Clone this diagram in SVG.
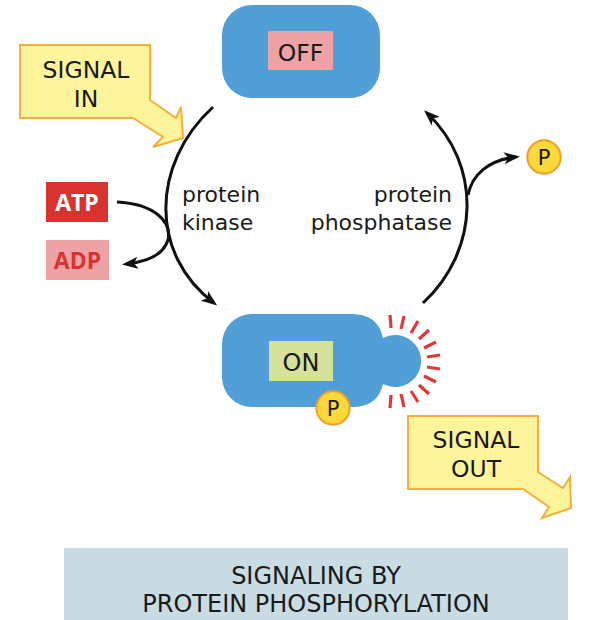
<svg xmlns="http://www.w3.org/2000/svg" width="590" height="620" viewBox="0 0 590 620">
<defs>
<style>
.t{font-family:"DejaVu Sans","Open Sans",sans-serif;fill:#1a1a1a}
.b{font-family:"Open Sans","Noto Sans","DejaVu Sans",sans-serif;font-weight:bold}
.call{fill:#fef49c;stroke:#f5b03c;stroke-width:2;stroke-linejoin:miter}
.blue{fill:#519fd6}
.ln{fill:none;stroke:#111;stroke-width:3;stroke-linecap:butt}
.pc{fill:#fcd83a;stroke:#eea02a;stroke-width:2}
.ray{stroke:#e0383a;stroke-width:3.2;stroke-linecap:butt}
</style>
<marker id="ah" viewBox="0 0 16 12" markerUnits="userSpaceOnUse" markerWidth="16" markerHeight="12" refX="12" refY="6" orient="auto">
<path d="M0,0 L16,6 L0,12 L4,6 Z" fill="#111"/>
</marker>
</defs>
<rect width="590" height="620" fill="#fff"/>

<g id="connectors">
<path class="ln" d="M213,107 C150,165 150,255 214,303" marker-end="url(#ah)"/>
<path class="ln" d="M423,303 C480,250 482,165 427,113" marker-end="url(#ah)"/>
<path class="ln" d="M117,202 C155,204 172,222 168,240 C163,256 146,262 126,264" marker-end="url(#ah)"/>
<path class="ln" d="M468,195 C472,175 488,160 516,157" marker-end="url(#ah)"/>
</g>

<g id="signal-in">
<path class="call" d="M20,45 H150 V100 L176,118 L181,107 L183,138 L153,147 L163,137 L133,118 H20 Z"/>
<text class="t" font-size="23.5" text-anchor="middle"><tspan x="86" y="78">SIGNAL</tspan><tspan x="86" y="107">IN</tspan></text>
</g>

<g id="off">
<rect class="blue" x="222" y="5" width="158" height="93" rx="30"/>
<rect x="268" y="31" width="65" height="39" fill="#eda2a5"/>
<text class="t" x="300.5" y="61" font-size="23.5" text-anchor="middle">OFF</text>
</g>

<g id="atp">
<rect x="46" y="182" width="62" height="40" fill="#d8332f"/>
<text class="b" x="77" y="211" font-size="23" fill="#fff" text-anchor="middle">ATP</text>
</g>

<g id="adp">
<rect x="46" y="240" width="63" height="40" fill="#eda2a5"/>
<text class="b" x="77.5" y="269" font-size="23" fill="#d8332f" text-anchor="middle">ADP</text>
</g>

<g id="kinase-label">
<text class="t" font-size="22"><tspan x="182" y="202">protein</tspan><tspan x="182" y="230">kinase</tspan></text>
</g>

<g id="phosphatase-label">
<text class="t" font-size="22" text-anchor="end"><tspan x="452" y="202">protein</tspan><tspan x="452" y="230">phosphatase</tspan></text>
</g>

<g id="p-free">
<circle class="pc" cx="544" cy="157" r="16.7"/>
<text class="t" x="544" y="164.5" font-size="21" text-anchor="middle">P</text>
</g>

<g id="on">
<path class="blue" d="M252,314 H352 Q378,314 383,338 A26,26 0 1 1 383,384 Q378,407 352,407 H252 A30,30 0 0 1 222,377 V344 A30,30 0 0 1 252,314 Z"/>
<rect x="269" y="341" width="64" height="40" fill="#d6e19b"/>
<text class="t" x="301" y="371" font-size="24" text-anchor="middle">ON</text>
<circle class="pc" cx="333" cy="408" r="16.7"/>
<text class="t" x="333" y="415.5" font-size="21" text-anchor="middle">P</text>
<g id="rays">
<line class="ray" x1="391" y1="328" x2="390" y2="315"/>
<line class="ray" x1="401" y1="329" x2="404" y2="316"/>
<line class="ray" x1="411" y1="333" x2="418" y2="321"/>
<line class="ray" x1="419" y1="339" x2="429" y2="330"/>
<line class="ray" x1="424" y1="348" x2="436" y2="342"/>
<line class="ray" x1="427" y1="357" x2="440" y2="355"/>
<line class="ray" x1="427" y1="367" x2="440" y2="369"/>
<line class="ray" x1="424" y1="376" x2="436" y2="382"/>
<line class="ray" x1="419" y1="385" x2="429" y2="394"/>
<line class="ray" x1="411" y1="391" x2="418" y2="402"/>
<line class="ray" x1="401" y1="394" x2="404" y2="407"/>
<line class="ray" x1="391" y1="395" x2="390" y2="408"/>
</g>
</g>

<g id="signal-out">
<path class="call" d="M408,416 H538 V472 L563,488 L570,477 L571,508 L542,518 L549,507 L523,489 H408 Z"/>
<text class="t" font-size="23.5" text-anchor="middle"><tspan x="476" y="448">SIGNAL</tspan><tspan x="476" y="477">OUT</tspan></text>
</g>

<g id="banner">
<rect x="64" y="548" width="504" height="72" fill="#c9dbe3"/>
<text class="t" font-size="24" text-anchor="middle"><tspan x="316" y="584">SIGNALING BY</tspan><tspan x="316" y="612">PROTEIN PHOSPHORYLATION</tspan></text>
</g>
</svg>
